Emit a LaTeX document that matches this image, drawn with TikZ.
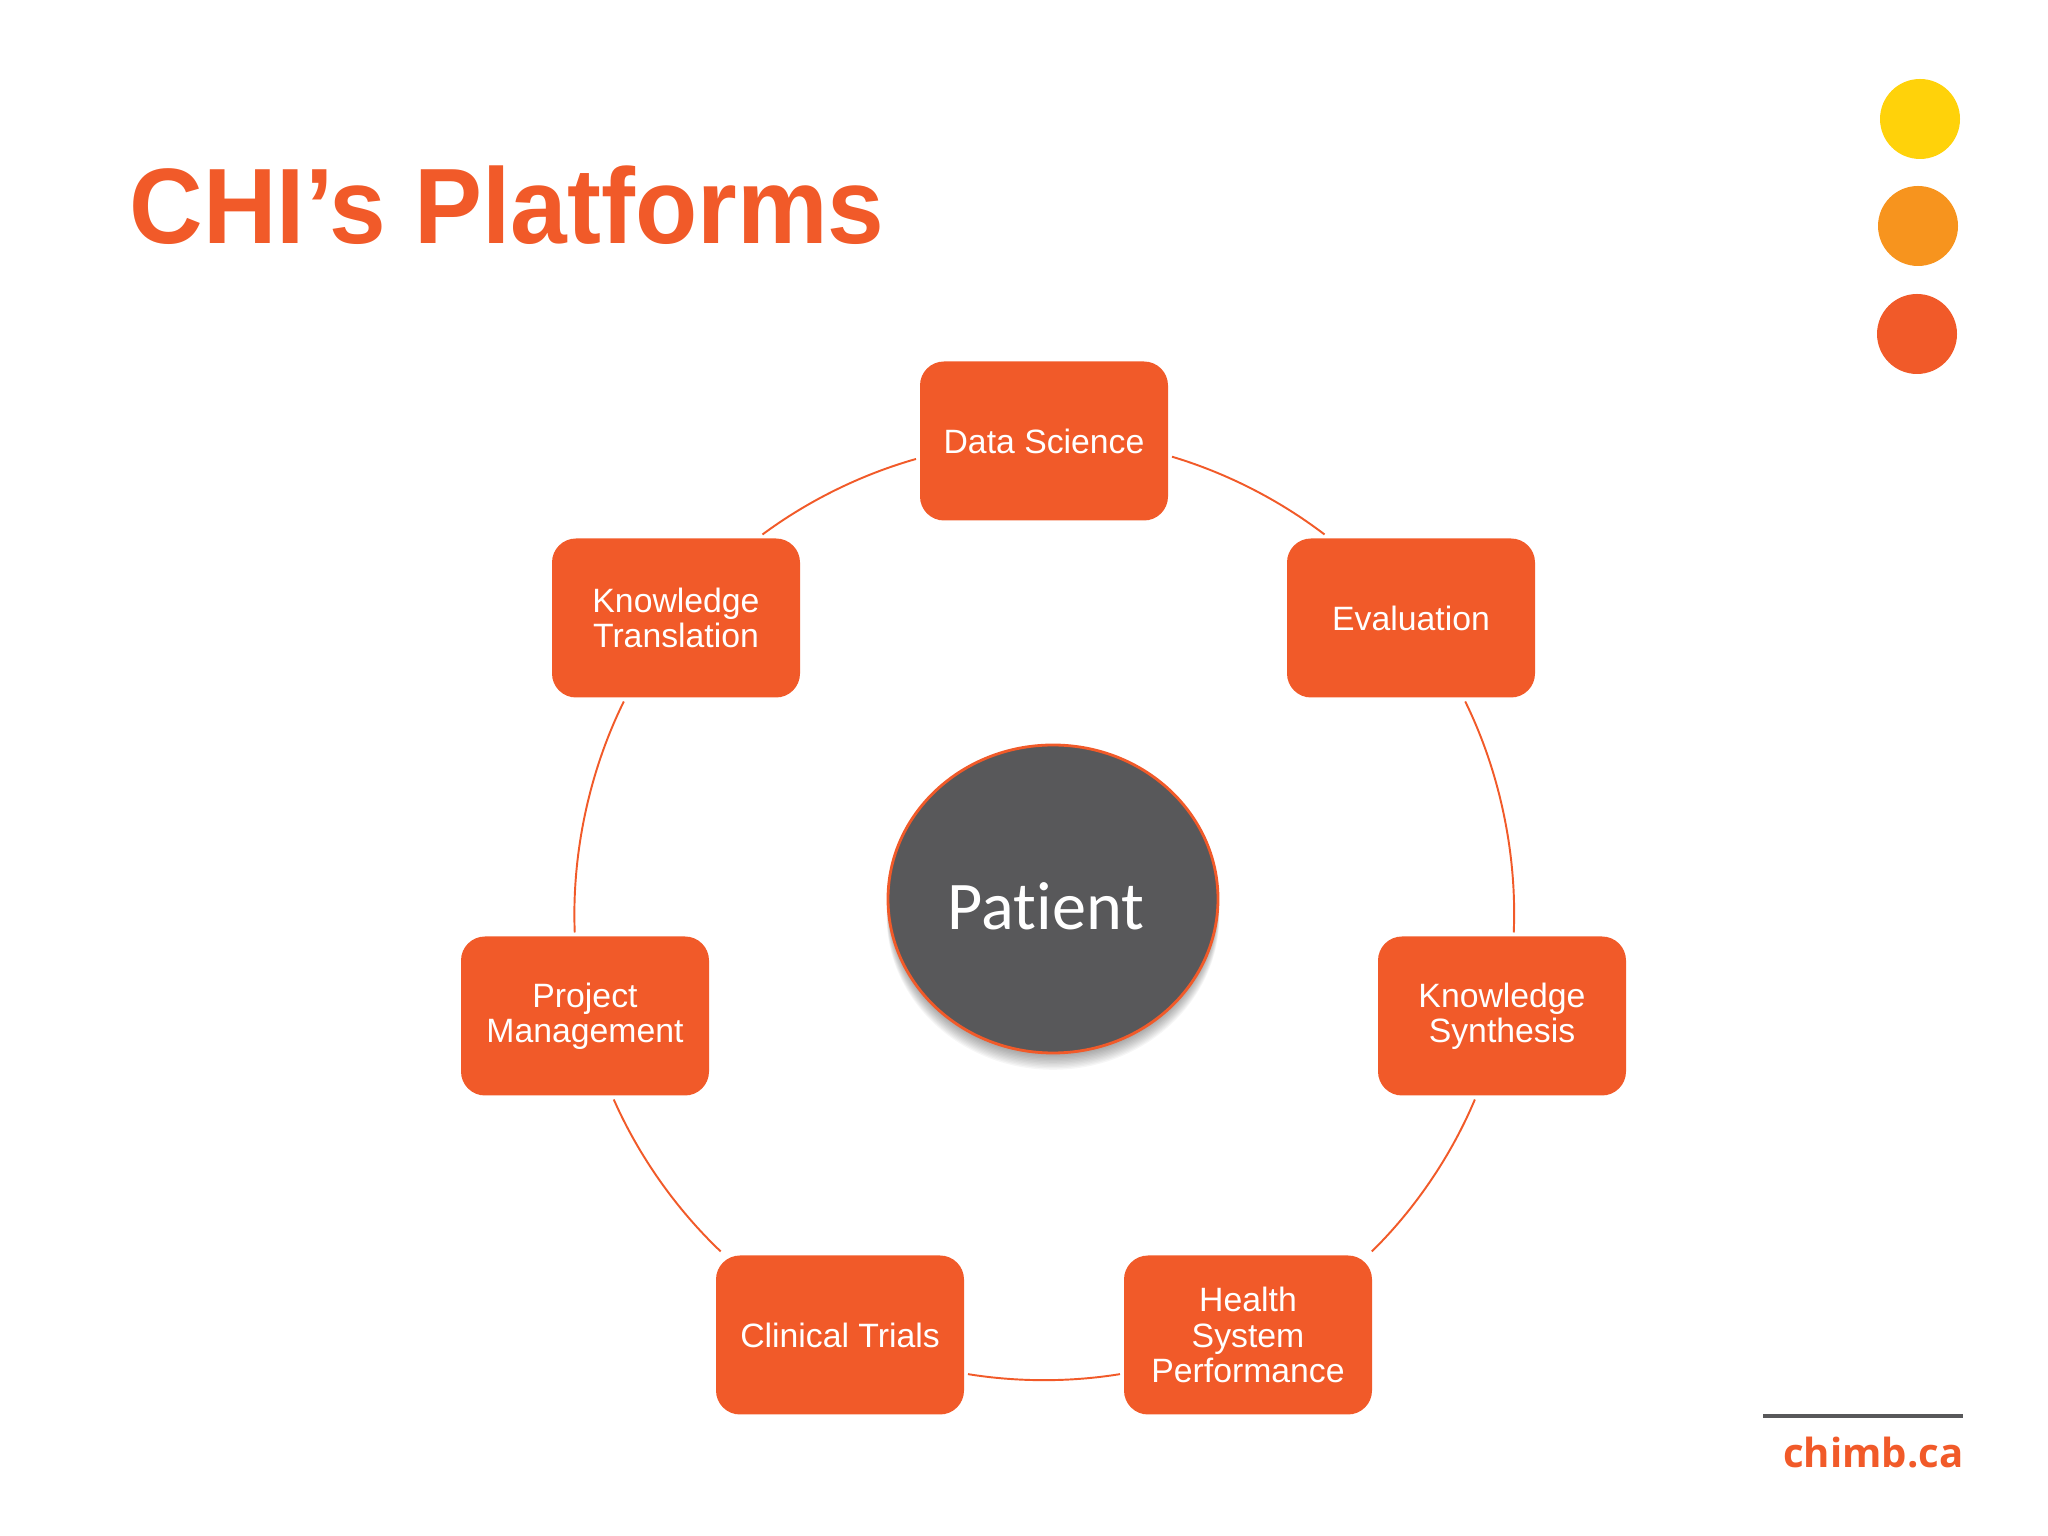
\documentclass[tikz,border=0pt]{standalone}
\usepackage{fontspec}
\setmainfont{Liberation Sans}
\newfontfamily\titlefont[FakeStretch=0.95]{Liberation Sans}
\newfontfamily\patientfont[Ligatures=NoCommon]{Carlito}
\newfontfamily\urlfont{Open Sans}
\usetikzlibrary{shapes.geometric}
\definecolor{chiorange}{HTML}{F15A29}
\definecolor{chigray}{HTML}{58585A}
\definecolor{chiyellow}{HTML}{FFD20A}
\definecolor{chiamber}{HTML}{F7941E}
\tikzset{
  platform/.style={fill=chiorange, text=white, rounded corners=24\unitlength, minimum width=248\unitlength, minimum height=159\unitlength, inner sep=0pt, outer sep=4\unitlength, align=center, font=\fontsize{9.6}{10}\selectfont},
  ring/.style={draw=chiorange, line width=0.55pt, looseness=0.85},
  dot/.style={circle, minimum size=80\unitlength, inner sep=0pt}
}
\setlength{\unitlength}{0.01cm}
\begin{document}
\begin{tikzpicture}[x=0.01cm, y=0.01cm]
    \useasboundingbox (0,0) rectangle (2048,1536);

    \node[anchor=base west, inner sep=0pt, text=chiorange, font=\titlefont\fontsize{30.5}{30.5}\selectfont\bfseries] (title) at (129,1292) {CHI’s Platforms};

    \node[dot, fill=chiyellow] (dotA) at (1920,1417) {};
    \node[dot, fill=chiamber] (dotB) at (1918,1310) {};
    \node[dot, fill=chiorange] (dotC) at (1917,1202) {};

    \node[platform] (data) at (1044,1095) {Data Science};
    \node[platform] (eval) at (1411,918) {Evaluation};
    \node[platform] (synth) at (1502,520) {Knowledge\\Synthesis};
    \node[platform] (health) at (1248,201) {Health\\System\\Performance};
    \node[platform] (trials) at (840,201) {Clinical Trials};
    \node[platform] (proj) at (585,520) {Project\\Management};
    \node[platform] (trans) at (676,918) {Knowledge\\Translation};

    \draw[ring] (data.-7.8) to[bend left=10.35] (eval.136.3);
    \draw[ring] (eval.-57.6) to[bend left=14.3] (synth.82.2);
    \draw[ring] (synth.-108.8) to[bend left=11.3] (health.34.7);
    \draw[ring] (health.-163.9) to[bend left=9.2] (trials.-17.7);
    \draw[ring] (trials.145.5) to[bend left=11.3] (proj.-71.2);
    \draw[ring] (proj.97.8) to[bend left=14.3] (trans.-122.4);
    \draw[ring] (trans.44.1) to[bend left=10.35] (data.-172.2);

    \foreach \s in {1,...,12}
      \fill[black, opacity=0.035] (1053,{637-\s*1.4}) ellipse ({164+0.2*\s} and 154);
    \node[ellipse, fill=chigray, draw=chiorange, line width=0.8pt, minimum width=330\unitlength, minimum height=308\unitlength, inner sep=0pt] (patient) at (1053,637) {};
    \node[text=white, inner sep=0pt, font=\patientfont\fontsize{19.4}{19.4}\selectfont] (patientlabel) at (1046,630) {Patient};

    \coordinate (ruleL) at (1763,120);
    \coordinate (ruleR) at (1963,120);
    \draw[chigray, line width=4\unitlength] (ruleL) -- (ruleR);
    \node[anchor=base east, inner sep=0pt, text=chiorange, font=\urlfont\fontsize{11.4}{11.4}\selectfont\bfseries] (url) at (1964,68) {chimb.ca};
\end{tikzpicture}
\end{document}
